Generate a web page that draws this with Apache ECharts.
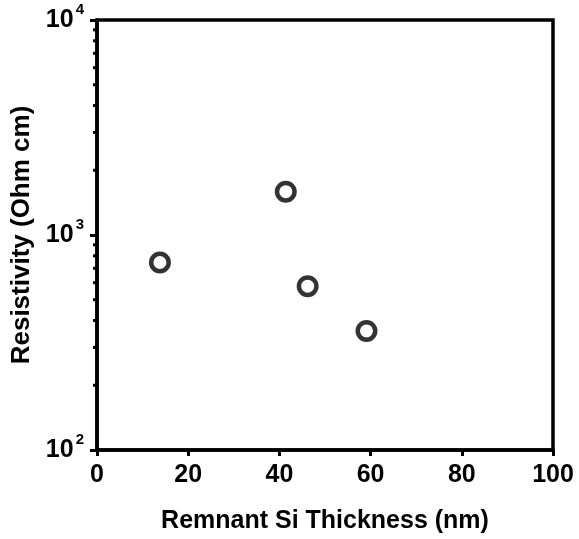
<!DOCTYPE html>
<html>
<head>
<meta charset="utf-8">
<script src="https://cdn.jsdelivr.net/npm/echarts@6/dist/echarts.min.js"></script>
<style>
  html, body { margin: 0; padding: 0; background: #fff; }
  #chart { width: 579px; height: 539px; }
</style>
</head>
<body>
<div id="chart"></div>
<script>
// Remnant Si thickness (nm) and measured resistivity (Ohm cm)
const thickness = [13.8, 41.4, 46.2, 59.1];
const resistivity = [745, 1590, 578, 358];
const xTicks = [0, 20, 40, 60, 80, 100];
const yDecades = [100, 1000, 10000];

const FONT = 'Liberation Sans, Arial, sans-serif';
const chart = echarts.init(document.getElementById('chart'));

const option = {
  animation: false,
  backgroundColor: '#fff',
  grid: { left: 97, right: 26, top: 20, bottom: 88, show: true, borderColor: '#000', borderWidth: 3.5, backgroundColor: 'transparent' },
  xAxis: {
    type: 'value',
    min: xTicks[0], max: xTicks[xTicks.length - 1], interval: 20,
    name: 'Remnant Si Thickness (nm)',
    nameLocation: 'middle', nameGap: 59,
    nameTextStyle: { fontFamily: FONT, fontWeight: 'bold', fontSize: 25, color: '#000' },
    axisLine: { lineStyle: { color: '#000', width: 3.5 } },
    axisTick: { show: true, inside: false, length: 6, lineStyle: { color: '#000', width: 3 } },
    axisLabel: { margin: 13, fontFamily: FONT, fontWeight: 'bold', fontSize: 25, color: '#000' },
    splitLine: { show: false }
  },
  yAxis: {
    type: 'log', logBase: 10,
    min: yDecades[0], max: yDecades[yDecades.length - 1], interval: 1,
    name: 'Resistivity (Ohm cm)',
    nameLocation: 'middle', nameGap: 57, nameRotate: 90,
    nameTextStyle: { fontFamily: FONT, fontWeight: 'bold', fontSize: 26, color: '#000' },
    axisLine: { lineStyle: { color: '#000', width: 3.5 } },
    axisTick: { show: true, inside: false, length: 7, lineStyle: { color: '#000', width: 3 } },
    axisLabel: {
      margin: 13,
      formatter: v => '{b|10}{s|' + Math.round(Math.log10(v)) + '}',
      rich: {
        b: { fontFamily: FONT, fontWeight: 'bold', fontSize: 25, color: '#000', padding: [5, 0, 5, 0] },
        s: { fontFamily: FONT, fontWeight: 'bold', fontSize: 15, color: '#000', verticalAlign: 'top', padding: [0, 0, 0, 2] }
      }
    },
    splitLine: { show: false }
  },
  series: [{
    type: 'scatter',
    data: thickness.map((x, i) => [x, resistivity[i]]),
    symbol: 'circle', symbolSize: 17.5,
    itemStyle: { color: '#fff', borderColor: '#000', borderWidth: 4.5 }
  }]
};
chart.setOption(option);

// Minor log ticks (2..9 x 10^k) drawn outward from the left axis
const minor = [];
for (let d = 0; d < yDecades.length - 1; d++) {
  for (let m = 2; m <= 9; m++) {
    const v = yDecades[d] * m;
    const p = chart.convertToPixel({ gridIndex: 0 }, [0, v]);
    minor.push({
      type: 'line', silent: true,
      shape: { x1: p[0] - 4, y1: p[1], x2: p[0], y2: p[1] },
      style: { stroke: '#000', lineWidth: 3 }
    });
  }
}
chart.setOption({ graphic: minor });
</script>
</body>
</html>
